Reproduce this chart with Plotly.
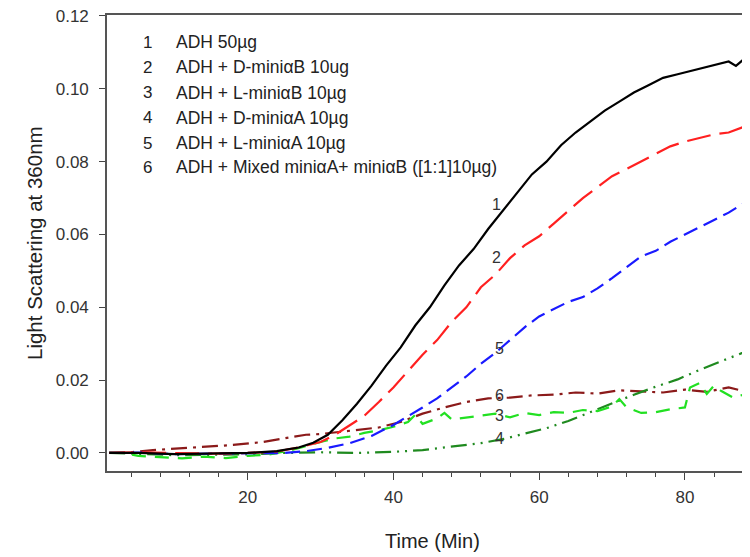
import plotly.graph_objects as go

# ---- data ----
t1 = [1, 5, 10, 15, 20, 24, 27, 29, 31, 33, 35, 37, 39, 41, 43, 45, 47, 49, 51, 53, 55, 57, 59, 61, 63, 65, 67, 69, 71, 73, 75, 77, 79, 81, 83, 85, 86, 87, 88, 88.9]
y1 = [0, 0, -0.0003, -0.0002, 0, 0.0005, 0.0015, 0.0028, 0.005, 0.009, 0.0135, 0.0185, 0.024, 0.029, 0.035, 0.040, 0.046, 0.0515, 0.056, 0.0615, 0.0665, 0.0715, 0.0765, 0.080, 0.0845, 0.088, 0.091, 0.094, 0.0965, 0.099, 0.101, 0.103, 0.104, 0.105, 0.106, 0.107, 0.1075, 0.1063, 0.108, 0.1066]

t2 = [1, 5, 10, 15, 20, 24, 27, 30, 32, 34, 36, 38, 40, 42, 44, 46, 48, 50, 52, 54, 56, 58, 60, 62, 64, 66, 68, 70, 72, 74, 76, 78, 80, 82, 84, 86, 88, 88.9]
y2 = [0, 0.0002, 0, -0.0002, 0, 0.0004, 0.0015, 0.003, 0.005, 0.0075, 0.0102, 0.014, 0.018, 0.0225, 0.027, 0.031, 0.036, 0.040, 0.0455, 0.049, 0.0535, 0.057, 0.0595, 0.063, 0.0665, 0.070, 0.073, 0.076, 0.078, 0.080, 0.082, 0.0842, 0.0855, 0.0865, 0.0875, 0.088, 0.0895, 0.0896]

t3 = [1, 3, 5, 8, 11, 14, 17, 20, 23, 26, 28, 30, 32, 34, 36, 38, 40, 42, 43, 44, 46, 47, 48, 50, 52, 54, 56, 58, 60, 62, 64, 66, 68, 70, 71, 72, 74, 76, 78, 80, 80.7, 82, 83, 84, 85, 86.6, 88, 88.9]
y3 = [0, 0, -0.0008, -0.0012, -0.0015, -0.001, -0.0014, -0.0008, -0.0004, 0.0008, 0.002, 0.003, 0.004, 0.0045, 0.0055, 0.0062, 0.0072, 0.0085, 0.0105, 0.008, 0.0095, 0.011, 0.0092, 0.0098, 0.0102, 0.0108, 0.0098, 0.011, 0.0104, 0.0112, 0.011, 0.0118, 0.0115, 0.0128, 0.0148, 0.0125, 0.011, 0.0112, 0.012, 0.0125, 0.018, 0.0192, 0.0162, 0.0185, 0.017, 0.0152, 0.016, 0.0162]

t4 = [1, 5, 10, 15, 20, 25, 30, 35, 40, 44, 48, 52, 55, 58, 61, 64, 67, 70, 73, 76, 79, 82, 85, 88, 88.9]
y4 = [0, -0.0003, -0.0006, -0.0005, -0.0004, 0, 0.0002, 0, 0.0003, 0.0008, 0.0017, 0.0027, 0.0038, 0.0052, 0.0068, 0.0088, 0.0112, 0.0138, 0.016, 0.0182, 0.0202, 0.0228, 0.0252, 0.0275, 0.0283]

t5 = [1, 5, 10, 15, 20, 25, 28, 31, 34, 37, 40, 42, 44, 46, 48, 50, 52, 54, 56, 58, 60, 62, 64, 66, 68, 70, 72, 74, 76, 78, 80, 82, 84, 86, 88, 88.9]
y5 = [0, 0.0001, -0.0003, -0.0002, -0.0001, 0, 0.0005, 0.0014, 0.0027, 0.0047, 0.0077, 0.010, 0.0125, 0.015, 0.018, 0.021, 0.0245, 0.0275, 0.031, 0.0345, 0.0375, 0.0395, 0.0415, 0.0428, 0.0452, 0.048, 0.051, 0.054, 0.0555, 0.058, 0.060, 0.0621, 0.064, 0.066, 0.0685, 0.070]

t6 = [1, 4, 7, 10, 14, 18, 22, 26, 28, 30, 32, 35, 38, 41, 44, 47, 50, 53, 56, 59, 62, 65, 68, 71, 74, 77, 80, 83, 86, 88.9]
y6 = [0, 0.0002, 0.0008, 0.0012, 0.0016, 0.0022, 0.003, 0.0042, 0.005, 0.0052, 0.0056, 0.0062, 0.007, 0.0085, 0.0108, 0.0125, 0.014, 0.015, 0.0152, 0.0158, 0.016, 0.0166, 0.0163, 0.0172, 0.017, 0.0166, 0.0174, 0.0168, 0.018, 0.0166]

legend_nums = ["1", "2", "3", "4", "5", "6"]
legend_texts = ["ADH 50µg", "ADH + D-miniαB 10ug", "ADH + L-miniαB 10µg",
                "ADH + D-miniαA 10µg", "ADH + L-miniαA 10µg",
                "ADH + Mixed miniαA+ miniαB ([1:1]10µg)"]

curve_labels = ["1", "2", "5", "6", "3", "4"]
curve_label_x = [54.2, 54.2, 54.5, 54.5, 54.5, 54.6]
curve_label_y = [0.0681, 0.0536, 0.0288, 0.0157, 0.0104, 0.0041]

FONT = "Liberation Sans, Arial, sans-serif"

# page body has an 8px default margin; size the figure so the plot area
# lands at page x 107..750, y 15..471
fig = go.Figure()
series = [
    (t6, y6, "#8b1a1a", "16px,6px,3px,6px"),
    (t4, y4, "#1f8a1f", "16px,6px,2px,6px,2px,6px"),
    (t3, y3, "#22e022", "14px,9px"),
    (t5, y5, "#1a1aff", "15px,7px"),
    (t2, y2, "#ff2020", "24px,9px"),
    (t1, y1, "#000000", "solid"),
]
for x, y, c, d in series:
    fig.add_trace(go.Scatter(x=x, y=y, mode="lines",
                             line=dict(color=c, width=2.2, dash=d),
                             showlegend=False, hoverinfo="skip"))

def px_x(p):
    return (p - 107) / 643

def px_y(p):
    return (471 - p) / 456

ann = []
rows_y = [42, 67, 93, 118, 143, 167]
for n, t, py in zip(legend_nums, legend_texts, rows_y):
    ann.append(dict(xref="paper", yref="paper", x=px_x(147), y=px_y(py),
                    text=n, showarrow=False, xanchor="center", yanchor="middle",
                    font=dict(family=FONT, size=17, color="#222")))
    ann.append(dict(xref="paper", yref="paper", x=px_x(174), y=px_y(py),
                    text=t, showarrow=False, xanchor="left", yanchor="middle",
                    font=dict(family=FONT, size=17.5, color="#222")))
for lab, lx, ly in zip(curve_labels, curve_label_x, curve_label_y):
    ann.append(dict(x=lx, y=ly, text=lab, showarrow=False, xanchor="center",
                    yanchor="middle", font=dict(family=FONT, size=16, color="#333")))
ann.append(dict(xref="paper", yref="paper", x=px_x(432), y=px_y(541),
                text="Time (Min)", showarrow=False, xanchor="center", yanchor="middle",
                font=dict(family=FONT, size=20, color="#222")))
ann.append(dict(xref="paper", yref="paper", x=px_x(34), y=px_y(243),
                text="Light Scattering at 360nm", textangle=-90, showarrow=False,
                xanchor="center", yanchor="middle",
                font=dict(family=FONT, size=20.5, color="#222")))

fig.update_layout(
    width=742, height=549,
    margin=dict(l=99, r=0, t=7, b=86, autoexpand=False),
    plot_bgcolor="white", paper_bgcolor="white",
    annotations=ann,
    xaxis=dict(range=[0.7, 88.93], tickmode="linear", tick0=0, dtick=20,
               ticks="outside", ticklen=7, tickwidth=1.3, tickcolor="#444",
               showline=True, linecolor="#555", linewidth=1.6, mirror=True,
               showgrid=False, zeroline=False, automargin=False,
               ticklabeloverflow="allow", ticklabelstandoff=3,
               tickfont=dict(family=FONT, size=17, color="#333"),
               minor=dict(tickmode="linear", tick0=0, dtick=4, ticks="outside",
                          ticklen=4, tickwidth=1.3, tickcolor="#444", showgrid=False)),
    yaxis=dict(range=[-0.00495, 0.12027], tickmode="array",
               tickvals=[0, 0.02, 0.04, 0.06, 0.08, 0.10, 0.12],
               ticktext=["0.00", "0.02", "0.04", "0.06", "0.08", "0.10", "0.12"],
               ticks="outside", ticklen=6, tickwidth=1.3, tickcolor="#444",
               showline=True, linecolor="#555", linewidth=1.6, mirror=False,
               showgrid=False, zeroline=False, automargin=False,
               ticklabeloverflow="allow", ticklabelstandoff=7,
               tickfont=dict(family=FONT, size=17, color="#333")),
)

fig.write_html("out.html")
